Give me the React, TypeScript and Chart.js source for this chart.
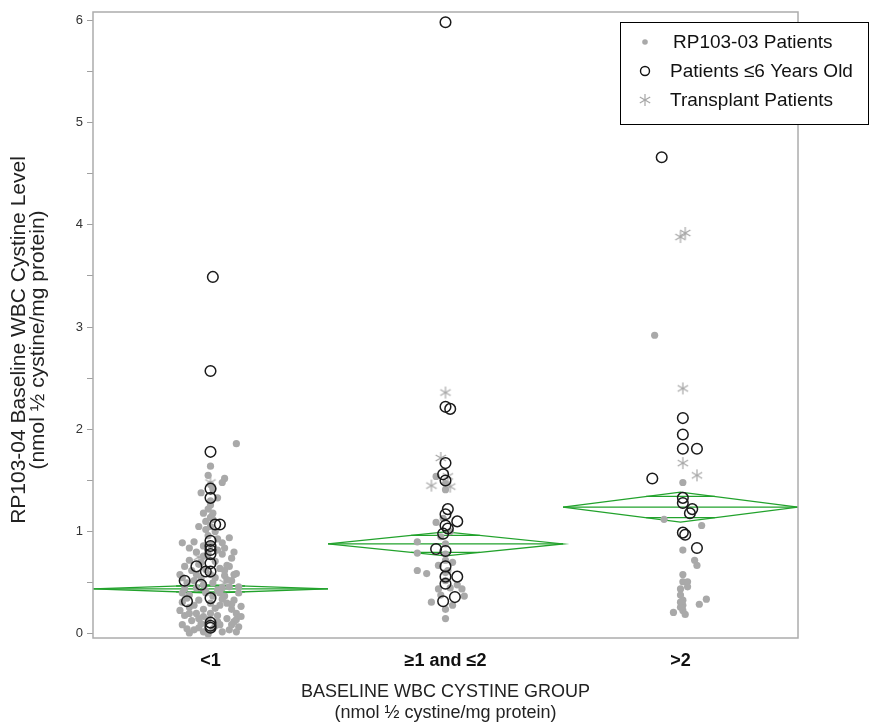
import React, { useEffect, useRef } from 'react';
import { Chart, registerables } from 'chart.js';

Chart.register(...registerables);

const FONT = "'Liberation Sans', Arial, Helvetica, sans-serif";

// Categories and tick labels
const groupLabels = ['<1', '≥1 and ≤2', '>2'];
const yTickValues = [0, 0.5, 1, 1.5, 2, 2.5, 3, 3.5, 4, 4.5, 5, 5.5, 6];

// Means diamonds (mean, CI half-width) per group
const groupMeans = [0.44, 0.88, 1.24];
const groupCI = [0.04, 0.117, 0.147];

// Points: [jitter within group (axis units), value]
const rp1: [number, number][] = [
  [0.11, 1.86], [0, 1.64], [-0.01, 1.55], [0.06, 1.52], [0.05, 1.48], [-0.04, 1.38], [0.03, 1.33], [0, 1.46],
  [0.01, 1.42], [0, 1.3], [0, 1.26], [-0.01, 1.22], [0.01, 1.18], [0, 1.14], [-0.02, 1.1], [0.01, 1.12],
  [-0.05, 1.05], [-0.02, 1.02], [0.02, 1.0], [0.08, 0.94], [-0.12, 0.89], [-0.07, 0.9], [0.05, 0.89], [-0.01, 0.96],
  [0.03, 0.93], [-0.03, 0.86], [0.06, 0.84], [-0.06, 0.8], [-0.09, 0.72], [0.09, 0.74], [0.07, 0.67], [-0.03, 0.76],
  [0.02, 0.71], [-0.05, 0.68], [0.04, 0.64], [-0.13, 0.58], [0.11, 0.59], [-0.08, 0.62], [-0.02, 0.63], [0.06, 0.57],
  [0.09, 0.52], [-0.1, 0.5], [-0.04, 0.54], [0.01, 0.5], [0.08, 0.46], [-0.11, 0.44], [-0.06, 0.45], [0.03, 0.43],
  [0.12, 0.4], [-0.09, 0.38], [-0.02, 0.4], [0.06, 0.37], [0.1, 0.33], [-0.12, 0.31], [-0.05, 0.33], [0, 0.3],
  [0.04, 0.28], [-0.09, 0.26], [0.09, 0.24], [-0.03, 0.24], [0.11, 0.2], [-0.11, 0.18], [-0.06, 0.2], [0.03, 0.18],
  [0.07, 0.15], [-0.08, 0.13], [-0.01, 0.14], [0.1, 0.12], [-0.12, 0.09], [-0.04, 0.1], [0.04, 0.09], [0.12, 0.07],
  [-0.1, 0.05], [-0.07, 0.04], [0.01, 0.05], [0.08, 0.04], [-0.03, 0.02], [0.05, 0.02], [-0.09, 0.01], [0.11, 0.02],
  [-0.05, 0.06], [0.02, 0.08], [-0.01, 0.0], [0.03, 0.12], [-0.03, 0.17], [0.09, 0.29], [-0.07, 0.52], [0.06, 0.62],
  [-0.11, 0.66], [0.1, 0.8], [-0.09, 0.84], [0.03, 0.82], [0, 0.87], [0.11, 0.14], [-0.13, 0.23], [0.13, 0.27],
  [0, 0.58], [-0.03, 0.48], [0.01, 0.37], [-0.01, 0.78], [0, 1.05], [-0.03, 1.18], [0.02, 0.55], [0.05, 0.34],
  [-0.1, 0.35], [0.12, 0.46], [-0.12, 0.4], [0.07, 0.3], [-0.07, 0.28], [0.05, 0.45], [-0.05, 0.15], [0.09, 0.09],
  [-0.09, 0.2], [0.13, 0.17], [0, 0.2], [0.02, 0.25], [-0.02, 0.42], [0.07, 0.53], [-0.12, 0.55], [0.04, 0.4],
  [0.1, 0.58], [-0.06, 0.58], [0.08, 0.66], [-0.04, 0.7], [0.05, 0.78],
];
const rp2: [number, number][] = [
  [-0.12, 0.9], [-0.12, 0.79], [-0.12, 0.62], [-0.08, 0.59], [-0.04, 1.09], [0, 1.41], [-0.04, 1.54], [-0.06, 0.31],
  [0, 0.24], [0, 0.15], [0.08, 0.37], [0.05, 0.48], [-0.02, 0.38], [-0.03, 0.67], [0, 0.72], [0.02, 0.45],
  [0, 0.52], [0, 0.6], [0.03, 0.28], [-0.03, 0.44], [0, 0.78], [0, 0.88], [0.02, 1.0], [-0.01, 1.13],
  [0, 1.47], [0.03, 0.7], [-0.02, 0.95], [0.01, 0.62], [0.07, 0.44],
];
const rp3: [number, number][] = [
  [-0.11, 2.92], [0.01, 1.48], [-0.07, 1.12], [0.09, 1.06], [0.01, 0.82], [0.06, 0.72], [0.07, 0.67], [0.01, 0.58],
  [0.01, 0.51], [0.03, 0.51], [0.03, 0.46], [0, 0.44], [0, 0.38], [0.01, 0.33], [0.11, 0.34], [0.08, 0.29],
  [0.01, 0.28], [-0.03, 0.21], [0.01, 0.23], [0.02, 0.19], [0, 0.31], [0, 0.26],
];

const young1: [number, number][] = [
  [0.01, 3.49], [0, 2.57], [0, 1.78], [0, 1.42], [0, 1.33], [0.02, 1.07], [0.04, 1.07], [0, 0.91],
  [0, 0.86], [0, 0.82], [0, 0.78], [0, 0.69], [-0.06, 0.66], [-0.02, 0.61], [0, 0.61], [-0.11, 0.52],
  [-0.04, 0.48], [-0.1, 0.32], [0, 0.35], [0, 0.11], [0, 0.06], [0, 0.08],
];
const young2: [number, number][] = [
  [0, 5.98], [0, 2.22], [0.02, 2.2], [0, 1.67], [-0.01, 1.56], [0, 1.5], [0.01, 1.22], [0, 1.17],
  [0.05, 1.1], [0, 1.06], [0.01, 1.03], [-0.01, 0.98], [-0.04, 0.83], [0, 0.81], [0, 0.66], [0, 0.56],
  [0.05, 0.56], [0, 0.49], [0.04, 0.36], [-0.01, 0.32],
];
const young3: [number, number][] = [
  [-0.08, 4.66], [0.01, 2.11], [0.01, 1.95], [0.01, 1.81], [0.07, 1.81], [-0.12, 1.52], [0.01, 1.33], [0.01, 1.28],
  [0.05, 1.22], [0.04, 1.18], [0.01, 0.99], [0.02, 0.97], [0.07, 0.84],
];

const transplant1: [number, number][] = [[0, 1.48], [-0.05, 0.75], [0.06, 0.5]];
const transplant2: [number, number][] = [[0, 2.36], [-0.02, 1.72], [-0.06, 1.45], [0.02, 1.44], [0.01, 1.54]];
const transplant3: [number, number][] = [[0, 3.88], [0.02, 3.92], [0.01, 2.4], [0.01, 1.67], [0.07, 1.55]];

const seriesLabels = ['RP103-03 Patients', 'Patients ≤6 Years Old', 'Transplant Patients'];

const GREEN = '#22a22c';
const DOT = '#a9a9a9';

function toPoints(groups: [number, number][][]) {
  const out: { x: number; y: number }[] = [];
  groups.forEach((arr, gi) => arr.forEach(([j, v]) => out.push({ x: gi + 1 + j, y: v })));
  return out;
}

function makeAsterisk(r: number, color: string) {
  const c = document.createElement('canvas');
  const s = Math.ceil(r * 2 + 2);
  c.width = s;
  c.height = s;
  const g = c.getContext('2d')!;
  g.strokeStyle = color;
  g.lineWidth = 1.2;
  const cx = s / 2;
  const cy = s / 2;
  for (const ang of [90, 30, 150]) {
    const rad = (ang * Math.PI) / 180;
    g.beginPath();
    g.moveTo(cx - r * Math.cos(rad), cy - r * Math.sin(rad));
    g.lineTo(cx + r * Math.cos(rad), cy + r * Math.sin(rad));
    g.stroke();
  }
  return c;
}

export default function App() {
  const ref = useRef<HTMLCanvasElement | null>(null);

  useEffect(() => {
    if (!ref.current) return;
    const star = makeAsterisk(6, '#a6a6a6');

    const diamondSets: any[] = [];
    groupMeans.forEach((m, i) => {
      const h = groupCI[i];
      const c = i + 1;
      const k = h / Math.SQRT2;
      const d = 0.5 * (1 - 1 / Math.SQRT2);
      const base = { showLine: true, pointRadius: 0, borderColor: GREEN, borderWidth: 1.3, fill: false, order: 10 };
      diamondSets.push({ ...base, data: [{ x: c - 0.5, y: m }, { x: c, y: m + h }, { x: c + 0.5, y: m }, { x: c, y: m - h }, { x: c - 0.5, y: m }] });
      diamondSets.push({ ...base, data: [{ x: c - 0.5, y: m }, { x: c + 0.5, y: m }] });
      diamondSets.push({ ...base, data: [{ x: c - d, y: m + k }, { x: c + d, y: m + k }] });
      diamondSets.push({ ...base, data: [{ x: c - d, y: m - k }, { x: c + d, y: m - k }] });
    });

    const decor = {
      id: 'decor',
      afterDatasetsDraw(chart: any) {
        const { ctx, chartArea: a } = chart;
        ctx.save();
        ctx.strokeStyle = '#acacac';
        ctx.lineWidth = 1.5;
        ctx.strokeRect(a.left, a.top, a.right - a.left, a.bottom - a.top);
        ctx.restore();
      },
      afterDraw(chart: any) {
        const { ctx, chartArea: a } = chart;
        // Y axis title
        ctx.save();
        ctx.translate(19, (a.top + a.bottom) / 2 + 15);
        ctx.rotate(-Math.PI / 2);
        ctx.font = `21px ${FONT}`;
        ctx.fillStyle = '#222';
        ctx.textAlign = 'center';
        ctx.textBaseline = 'middle';
        ctx.fillText('RP103-04 Baseline WBC Cystine Level', 0, 0);
        ctx.fillText('(nmol ½ cystine/mg protein)', 0, 19);
        ctx.restore();

        // Legend
        const lx = 620, ly = 22, lw = 248, lh = 102;
        ctx.save();
        ctx.fillStyle = '#fff';
        ctx.fillRect(lx, ly, lw, lh);
        ctx.strokeStyle = '#000';
        ctx.lineWidth = 1;
        ctx.strokeRect(lx + 0.5, ly + 0.5, lw, lh);
        const rows = [42, 71, 100];
        const mx = 645;
        ctx.fillStyle = DOT;
        ctx.beginPath();
        ctx.arc(mx, rows[0], 2.8, 0, Math.PI * 2);
        ctx.fill();
        ctx.strokeStyle = '#111';
        ctx.lineWidth = 1.4;
        ctx.beginPath();
        ctx.arc(mx, rows[1], 4.5, 0, Math.PI * 2);
        ctx.stroke();
        ctx.drawImage(star, mx - star.width / 2, rows[2] - star.height / 2);
        ctx.font = `19px ${FONT}`;
        ctx.fillStyle = '#111';
        ctx.textAlign = 'left';
        ctx.textBaseline = 'middle';
        ctx.fillText(seriesLabels[0], 673, rows[0] + 1);
        ctx.fillText(seriesLabels[1], 670, rows[1] + 1);
        ctx.fillText(seriesLabels[2], 670, rows[2] + 1);
        ctx.restore();
      },
    };

    const chart = new Chart(ref.current, {
      type: 'scatter',
      data: {
        datasets: [
          ...diamondSets,
          {
            label: seriesLabels[2],
            data: toPoints([transplant1, transplant2, transplant3]),
            pointStyle: star as any,
            pointRadius: 6,
            order: 3,
          },
          {
            label: seriesLabels[0],
            data: toPoints([rp1, rp2, rp3]),
            pointStyle: 'circle',
            pointRadius: 3.6,
            backgroundColor: DOT,
            borderWidth: 0,
            order: 2,
          },
          {
            label: seriesLabels[1],
            data: toPoints([young1, young2, young3]),
            pointStyle: 'circle',
            pointRadius: 5.3,
            backgroundColor: 'rgba(0,0,0,0)',
            borderColor: '#1a1a1a',
            borderWidth: 1.5,
            order: 1,
          },
        ],
      },
      options: {
        animation: false,
        responsive: false,
        events: [],
        layout: { padding: { top: 12, right: 72, left: 0, bottom: 0 } },
        plugins: { legend: { display: false }, tooltip: { enabled: false } },
        scales: {
          x: {
            type: 'linear',
            min: 0.5,
            max: 3.5,
            afterBuildTicks: (s: any) => {
              s.ticks = groupLabels.map((_, i) => ({ value: i + 1 }));
            },
            afterFit: (s: any) => {
              s.height = 88;
            },
            grid: { display: false, drawTicks: false },
            border: { display: false },
            ticks: {
              autoSkip: false,
              maxRotation: 0,
              padding: 12,
              color: '#111',
              font: { family: FONT, size: 18, weight: 'bold' },
              callback: (v: any) => groupLabels[Math.round(Number(v)) - 1] ?? '',
            },
            title: {
              display: true,
              text: ['BASELINE WBC CYSTINE GROUP', '(nmol ½ cystine/mg protein)'],
              color: '#222',
              font: { family: FONT, size: 18, lineHeight: 1.17 },
              padding: { top: 0, bottom: 2 },
            },
          },
          y: {
            type: 'linear',
            min: -0.04,
            max: 6.08,
            afterBuildTicks: (s: any) => {
              s.ticks = yTickValues.map((v) => ({ value: v }));
            },
            afterFit: (s: any) => {
              s.width = 93;
            },
            grid: { drawOnChartArea: false, drawTicks: true, tickLength: 6, color: '#a0a0a0' },
            border: { display: false },
            ticks: {
              autoSkip: false,
              padding: 4,
              color: '#333',
              font: { family: FONT, size: 13 },
              callback: (v: any) => (Number.isInteger(Number(v)) ? String(v) : ''),
            },
          },
        },
      },
      plugins: [decor],
    } as any);

    return () => chart.destroy();
  }, []);

  return (
    <div style={{ position: 'absolute', left: 0, top: 0, width: 870, height: 726, background: '#fff' }}>
      <canvas ref={ref} width={870} height={726} style={{ display: 'block' }} />
    </div>
  );
}
